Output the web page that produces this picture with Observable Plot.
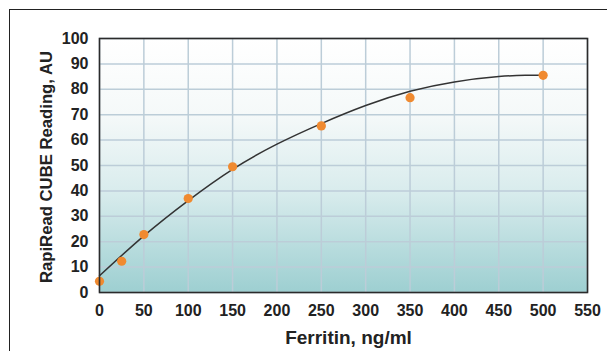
<!DOCTYPE html>
<html>
<head>
<meta charset="utf-8">
<script src="https://cdn.jsdelivr.net/npm/d3@7"></script>
<script src="https://cdn.jsdelivr.net/npm/@observablehq/plot@0.6"></script>
<style>
  html, body { margin: 0; padding: 0; background: #fff; overflow: hidden; width: 607px; height: 351px; }
  #wrap { position: relative; width: 607px; height: 351px; overflow: hidden; }
  #border { position: absolute; left: 9px; top: 9px; width: 700px; height: 500px;
            border-left: 1.5px solid #222; border-top: 1.5px solid #222; box-sizing: border-box; }
  #chart { position: absolute; left: 0; top: 0; }
</style>
</head>
<body>
<div id="wrap"><div id="border"></div><div id="chart"></div></div>
<script>
// Measured points
const ferritin = [0, 25, 50, 100, 150, 250, 350, 500];
const reading  = [4.4, 12.3, 22.8, 37, 49.5, 65.6, 76.7, 85.5];
// Fitted curve
const curveX = [0, 50, 100, 150, 200, 250, 300, 350, 400, 450, 480, 500];
const curveY = [6.6, 22.3, 36.2, 48.5, 58.4, 66.5, 73.6, 79.2, 82.9, 85.0, 85.5, 85.5];
const xTicks = [0, 50, 100, 150, 200, 250, 300, 350, 400, 450, 500, 550];
const yTicks = [0, 10, 20, 30, 40, 50, 60, 70, 80, 90, 100];
const xLabel = "Ferritin, ng/ml";
const yLabel = "RapiRead CUBE Reading, AU";

const points = ferritin.map((x, i) => ({x, y: reading[i]}));
const curve = curveX.map((x, i) => ({x, y: curveY[i]}));

const gridColor = "#bccdd8";

const chart = Plot.plot({
  width: 607,
  height: 351,
  marginLeft: 99,
  marginRight: 20,
  marginTop: 38,
  marginBottom: 59,
  style: {fontFamily: "'Liberation Sans', Arial, sans-serif", background: "transparent", overflow: "visible"},
  x: {domain: [0, 550], ticks: xTicks},
  y: {domain: [0, 100], ticks: yTicks},
  marks: [
    Plot.frame({fill: "url(#bgGrad)", stroke: "none"}),
    Plot.gridX(xTicks, {stroke: gridColor, strokeOpacity: 1, strokeWidth: 1.5}),
    Plot.gridY(yTicks, {stroke: gridColor, strokeOpacity: 1, strokeWidth: 1.5}),
    Plot.line(curve, {x: "x", y: "y", curve: "natural", stroke: "#333", strokeWidth: 1.5}),
    Plot.dot(points, {x: "x", y: "y", r: 4.6, fill: "#f08a30", stroke: "none"}),
    Plot.frame({stroke: "#2b2b2b", strokeWidth: 1.6}),
    Plot.axisX(xTicks, {tickSize: 0, tickPadding: 12, fontSize: 16, fontWeight: "bold", fill: "#222", label: null}),
    Plot.axisY(yTicks, {tickSize: 0, tickPadding: 11, fontSize: 16, fontWeight: "bold", fill: "#222", label: null}),
    Plot.text([xLabel], {frameAnchor: "bottom", text: d => d, dx: 5, dy: 51, lineAnchor: "bottom", textAnchor: "middle",
      fontSize: 19, fontWeight: "bold", fill: "#222"}),
    Plot.text([yLabel], {frameAnchor: "left", text: d => d, rotate: -90, dx: -48, dy: 1.5, lineAnchor: "bottom", textAnchor: "middle",
      fontSize: 16.7, fontWeight: "bold", fill: "#222"})
  ]
});

chart.insertAdjacentHTML("afterbegin",
  `<defs><linearGradient id="bgGrad" x1="0" y1="0" x2="0" y2="1">
     <stop offset="0" stop-color="#ffffff"/>
     <stop offset="0.3" stop-color="#f5f9f9"/>
     <stop offset="0.6" stop-color="#d9eced"/>
     <stop offset="1" stop-color="#9dcfd1"/>
   </linearGradient></defs>`);

document.getElementById("chart").appendChild(chart);
</script>
</body>
</html>
